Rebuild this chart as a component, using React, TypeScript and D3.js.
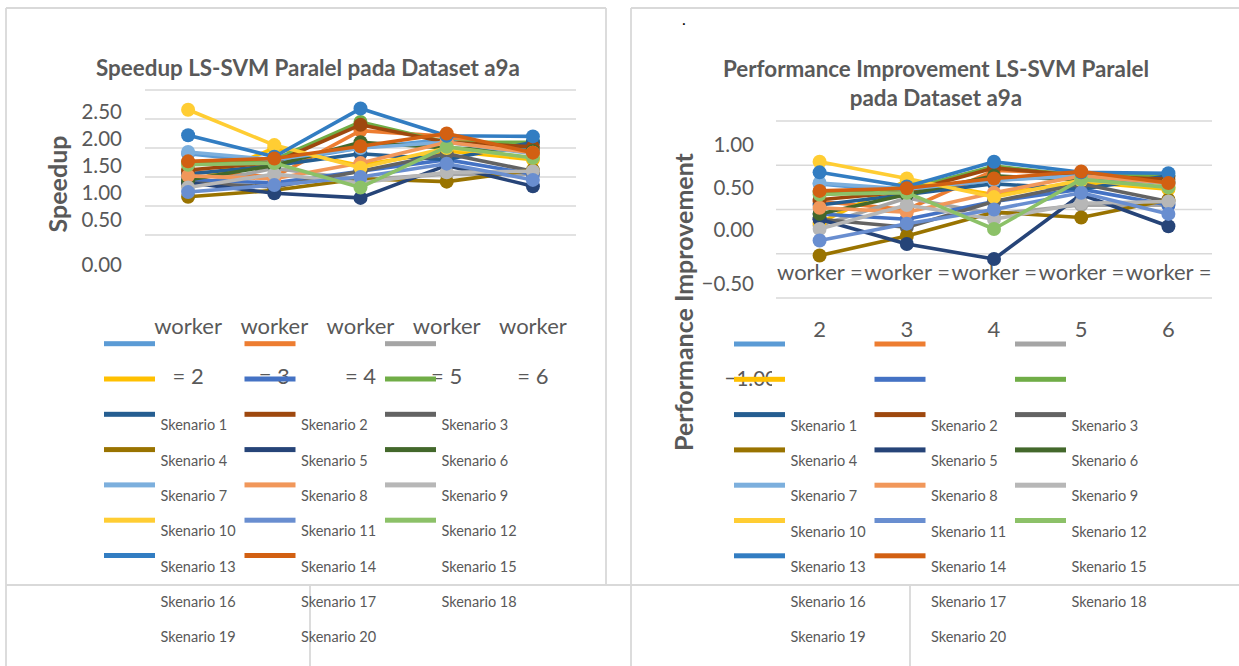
import React from "react";
import * as d3 from "d3";

// categories / series
const workers = ["2", "3", "4", "5", "6"];
const skenario = d3.range(1, 21).map((i) => `Skenario ${i}`);
const seriesColors = [
  "#5B9BD5", "#ED7D31", "#A5A5A5", "#FFC000", "#4472C4", "#70AD47", "#255E91",
  "#9E480E", "#636363", "#997300", "#264478", "#43682B", "#7CAFDD", "#F1975A",
  "#B7B7B7", "#FFCD33", "#698ED0", "#8CC168", "#327DC2", "#D26012",
];

// speedup per skenario, worker = 2..6
const speedup = [
  [1.4, 1.25, 1.5, 1.65, 1.45],
  [1.1, 1.0, 1.8, 1.7, 1.4],
  [0.85, 1.15, 0.95, 1.05, 1.05],
  [0.87, 1.5, 1.2, 1.45, 1.3],
  [0.95, 0.9, 1.1, 1.3, 1.05],
  [1.25, 1.3, 1.95, 1.6, 1.6],
  [1.05, 1.2, 1.4, 1.3, 1.6],
  [1.12, 1.25, 1.9, 1.6, 1.52],
  [0.9, 0.83, 1.1, 1.4, 1.1],
  [0.66, 0.77, 0.97, 0.92, 1.12],
  [0.9, 0.72, 0.64, 1.2, 0.84],
  [0.95, 1.2, 1.6, 1.5, 1.45],
  [1.43, 1.3, 1.5, 1.6, 1.4],
  [1.02, 0.97, 1.24, 1.6, 1.42],
  [0.82, 1.05, 0.9, 1.08, 1.1],
  [2.16, 1.55, 1.16, 1.5, 1.33],
  [0.74, 0.86, 1.0, 1.23, 0.95],
  [1.21, 1.24, 0.82, 1.52, 1.33],
  [1.72, 1.35, 2.18, 1.71, 1.7],
  [1.27, 1.32, 1.53, 1.75, 1.42],
];

// performance improvement per skenario, worker = 2..6
const improvement = [
  [0.29, 0.2, 0.33, 0.39, 0.31],
  [0.09, 0.0, 0.44, 0.41, 0.29],
  [-0.18, 0.13, -0.05, 0.05, 0.05],
  [-0.15, 0.33, 0.17, 0.31, 0.23],
  [-0.05, -0.11, 0.09, 0.23, 0.05],
  [0.2, 0.23, 0.49, 0.38, 0.38],
  [0.05, 0.17, 0.29, 0.23, 0.38],
  [0.11, 0.2, 0.47, 0.38, 0.34],
  [-0.11, -0.2, 0.09, 0.29, 0.09],
  [-0.52, -0.3, -0.03, -0.09, 0.11],
  [-0.11, -0.39, -0.56, 0.17, -0.19],
  [-0.05, 0.17, 0.38, 0.33, 0.31],
  [0.3, 0.23, 0.33, 0.38, 0.29],
  [0.02, -0.03, 0.19, 0.38, 0.3],
  [-0.22, 0.05, -0.11, 0.07, 0.09],
  [0.54, 0.35, 0.14, 0.33, 0.25],
  [-0.35, -0.16, 0.0, 0.19, -0.05],
  [0.17, 0.19, -0.22, 0.34, 0.25],
  [0.42, 0.26, 0.54, 0.42, 0.41],
  [0.21, 0.24, 0.35, 0.43, 0.3],
];

const speedupTicks = [0, 0.5, 1, 1.5, 2, 2.5];
const improvementTicks = [-1, -0.5, 0, 0.5, 1];

const TEXT = "#595959";
const GRID = "#D9D9D9";
const FONT = "Lato, Carlito, 'Open Sans', sans-serif";

function Series({ values, x, y }) {
  const line = d3
    .line<number>()
    .x((_, i) => x(workers[i])! + x.bandwidth() / 2)
    .y((v) => y(v));
  return (
    <g>
      {values.map((vals, s) => (
        <g key={s}>
          <path d={line(vals)!} fill="none" stroke={seriesColors[s]} strokeWidth={3.6} strokeLinejoin="round" />
          {vals.map((v, i) => (
            <circle key={i} cx={x(workers[i])! + x.bandwidth() / 2} cy={y(v)} r={7} fill={seriesColors[s]} />
          ))}
        </g>
      ))}
    </g>
  );
}

function Legend({ x0, y0 }) {
  const colW = 140.5;
  const rowH = 35.3;
  return (
    <g>
      {seriesColors.map((c, i) => (
        <rect key={i} x={x0 + (i % 3) * colW} y={y0 + Math.floor(i / 3) * rowH - 2.5} width={51} height={5} fill={c} />
      ))}
      {skenario.map((name, i) => (
        <text
          key={name}
          x={x0 + 56.5 + (i % 3) * colW}
          y={y0 + (Math.floor(i / 3) + 2) * rowH + 10.5}
          dominantBaseline="central"
          fontSize={14.5}
          fill={TEXT}
        >
          {name}
        </text>
      ))}
    </g>
  );
}

function SpeedupChart() {
  const x = d3.scaleBand().domain(workers).range([145, 576]);
  const y = d3.scaleLinear().domain([0, 2.5]).range([235, 90]);
  // tick text as laid out in the source (squeezed)
  const yLabel = d3.scaleLinear().domain([0, 0.5, 2.5]).range([264, 219, 111]);
  return (
    <g>
      <text x={308} y={67} textAnchor="middle" dominantBaseline="central" fontSize={22.4} fontWeight="bold" fill={TEXT}>
        Speedup LS-SVM Paralel pada Dataset a9a
      </text>
      {speedupTicks.map((t) => (
        <line key={t} x1={145} x2={576} y1={y(t)} y2={y(t)} stroke={GRID} strokeWidth={1.5} />
      ))}
      {speedupTicks.map((t) => (
        <text key={t} x={122} y={yLabel(t)} textAnchor="end" dominantBaseline="central" fontSize={20.5} fill={TEXT}>
          {d3.format(".2f")(t)}
        </text>
      ))}
      <text
        transform={`translate(57,184) rotate(-90)`}
        textAnchor="middle"
        dominantBaseline="central"
        fontSize={25}
        fontWeight="bold"
        fill={TEXT}
      >
        Speedup
      </text>
      {workers.map((w) => (
        <g key={w}>
          <text x={x(w)! + x.bandwidth() / 2} y={325} textAnchor="middle" dominantBaseline="central" fontSize={22} fill={TEXT}>
            worker
          </text>
          <text x={x(w)! + x.bandwidth() / 2} y={375} textAnchor="middle" dominantBaseline="central" fontSize={22} fill={TEXT}>
            = {w}
          </text>
        </g>
      ))}
      <Series values={speedup} x={x} y={y} />
      <Legend x0={104} y0={343.7} />
    </g>
  );
}

function ImprovementChart() {
  const x = d3.scaleBand().domain(workers).range([776, 1212]);
  const y = d3.scaleLinear().domain([-1, 1]).range([298, 121]);
  const yLabel = d3.scaleLinear().domain([-1, -0.5, 0, 1]).range([378, 283, 229, 144]);
  return (
    <g>
      <text x={682} y={25} fontSize={16} fill="#000">.</text>
      <text x={936} y={68} textAnchor="middle" dominantBaseline="central" fontSize={22.4} fontWeight="bold" fill={TEXT}>
        Performance Improvement LS-SVM Paralel
      </text>
      <text x={936} y={97} textAnchor="middle" dominantBaseline="central" fontSize={22.4} fontWeight="bold" fill={TEXT}>
        pada Dataset a9a
      </text>
      {improvementTicks.map((t) => (
        <line key={t} x1={776} x2={1212} y1={y(t)} y2={y(t)} stroke={GRID} strokeWidth={1.5} />
      ))}
      <defs>
        <clipPath id="pi-tick-clip">
          <rect x={640} y={100} width={132} height={300} />
        </clipPath>
        <clipPath id="pi-cat-clip">
          <rect x={770} y={240} width={442} height={60} />
        </clipPath>
      </defs>
      <g clipPath="url(#pi-tick-clip)">
        {improvementTicks.map((t) => (
          <text
            key={t}
            x={t === -1 ? 777 : 754}
            y={yLabel(t)}
            textAnchor="end"
            dominantBaseline="central"
            fontSize={20.5}
            fill={TEXT}
          >
            {d3.format(".2f")(t)}
          </text>
        ))}
      </g>
      <text
        transform={`translate(683,302) rotate(-90)`}
        textAnchor="middle"
        dominantBaseline="central"
        fontSize={25}
        fontWeight="bold"
        fill={TEXT}
      >
        Performance Improvement
      </text>
      <g clipPath="url(#pi-cat-clip)">
        {workers.map((w) => (
          <text key={w} x={x(w)! + 1} y={271} dominantBaseline="central" fontSize={22} fill={TEXT}>
            worker =
          </text>
        ))}
      </g>
      {workers.map((w) => (
        <text key={w} x={x(w)! + x.bandwidth() / 2} y={328} textAnchor="middle" dominantBaseline="central" fontSize={22} fill={TEXT}>
          {w}
        </text>
      ))}
      <Series values={improvement} x={x} y={y} />
      <Legend x0={734} y0={344} />
    </g>
  );
}

export default function App() {
  return (
    <svg
      width={1239}
      height={666}
      style={{ position: "absolute", left: 0, top: 0, background: "#fff", fontFamily: FONT }}
    >
      <rect width={1239} height={666} fill="#fff" />
      <g stroke={GRID} strokeWidth={1.8} fill="none">
        <line x1={6} x2={606} y1={8} y2={8} />
        <line x1={606} x2={606} y1={8} y2={585} />
        <line x1={6} x2={6} y1={8} y2={666} />
        <line x1={6} x2={1239} y1={585} y2={585} />
        <line x1={310} x2={310} y1={585} y2={666} />
        <line x1={631} x2={1239} y1={8} y2={8} />
        <line x1={631} x2={631} y1={8} y2={666} />
        <line x1={910} x2={910} y1={585} y2={666} />
      </g>
      <SpeedupChart />
      <ImprovementChart />
    </svg>
  );
}
